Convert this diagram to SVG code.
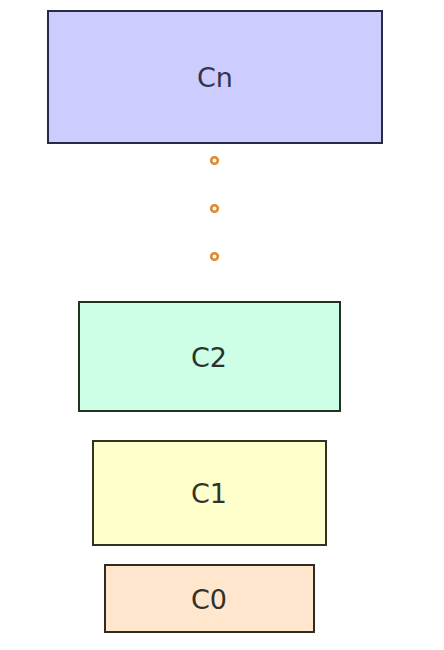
<svg xmlns="http://www.w3.org/2000/svg" width="444" height="650" viewBox="0 0 444 650">
<style>
.box{stroke-width:2}
.lbl{font-family:"DejaVu Sans",sans-serif;font-size:27px;text-anchor:middle;dominant-baseline:central}
.dot{fill:#fff;stroke:#e0892e;stroke-width:2.6}
</style>
<rect width="444" height="650" fill="#fff"/>
<g id="Cn">
<rect class="box" x="48" y="11" width="334" height="132" fill="#ccccff" stroke="#2a2a44"/>
<text class="lbl" x="215" y="77" fill="#33334a">Cn</text>
</g>
<g id="connectors">
<circle class="dot" cx="214.5" cy="160.5" r="3.3"/>
<circle class="dot" cx="214.5" cy="208.5" r="3.3"/>
<circle class="dot" cx="214.5" cy="256.5" r="3.3"/>
</g>
<g id="C2">
<rect class="box" x="79" y="302" width="261" height="109" fill="#ccffe6" stroke="#223322"/>
<text class="lbl" x="209" y="357" fill="#2a332a">C2</text>
</g>
<g id="C1">
<rect class="box" x="93" y="441" width="233" height="104" fill="#ffffcc" stroke="#333322"/>
<text class="lbl" x="209" y="493" fill="#33332a">C1</text>
</g>
<g id="C0">
<rect class="box" x="105" y="565" width="209" height="67" fill="#ffe6cc" stroke="#332a22"/>
<text class="lbl" x="209" y="599" fill="#33302a">C0</text>
</g>
</svg>
